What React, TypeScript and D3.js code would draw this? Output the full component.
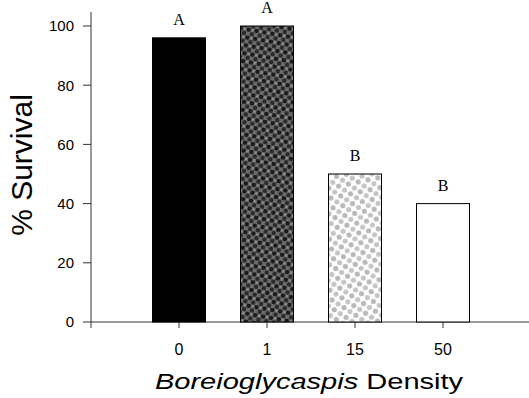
import { useEffect, useRef } from "react"
import * as d3 from "d3"

const categories = ["0", "1", "15", "50"]
const survival = [96, 100, 50, 40]
const letters = ["A", "A", "B", "B"]
const fills = ["#000", "url(#darkHatch)", "url(#lightDots)", "#fff"]
const yTicks = [0, 20, 40, 60, 80, 100]

export default function App() {
  const svgRef = useRef<SVGSVGElement | null>(null)

  useEffect(() => {
    if (!svgRef.current) return
    const root = d3.select(svgRef.current)
    root.selectAll("*").remove()

    // patterns for the two textured bars
    const defs = root.append("defs")
    const dark = defs
      .append("pattern")
      .attr("id", "darkHatch")
      .attr("patternUnits", "userSpaceOnUse")
      .attr("width", 8)
      .attr("height", 8)
      .attr("patternTransform", "rotate(10)")
    dark.append("rect").attr("width", 8).attr("height", 8).attr("fill", "#6e6e6e")
    dark.append("circle").attr("cx", 2).attr("cy", 2).attr("r", 2.3).attr("fill", "#1a1a1a")
    dark.append("circle").attr("cx", 6).attr("cy", 6).attr("r", 2.3).attr("fill", "#2a2a2a")
    dark.append("circle").attr("cx", 6).attr("cy", 2).attr("r", 1).attr("fill", "#9a9a9a")

    const light = defs
      .append("pattern")
      .attr("id", "lightDots")
      .attr("patternUnits", "userSpaceOnUse")
      .attr("width", 10)
      .attr("height", 10)
      .attr("patternTransform", "rotate(-12)")
    light.append("rect").attr("width", 10).attr("height", 10).attr("fill", "#fff")
    light.append("circle").attr("cx", 2.5).attr("cy", 2.5).attr("r", 2.6).attr("fill", "#b8b8b8")
    light.append("circle").attr("cx", 7.5).attr("cy", 7.5).attr("r", 2.6).attr("fill", "#c4c4c4")

    const x = d3.scaleLinear().domain([-1, 4]).range([91, 531])
    const y = d3.scaleLinear().domain([0, 100]).range([322, 26])
    const barW = 53

    const axisColor = "#333"

    // y axis line
    root
      .append("line")
      .attr("x1", 91)
      .attr("x2", 91)
      .attr("y1", 12)
      .attr("y2", 328)
      .attr("stroke", axisColor)
      .attr("stroke-width", 1)

    // x axis line
    root
      .append("line")
      .attr("x1", 91)
      .attr("x2", 529)
      .attr("y1", y(0))
      .attr("y2", y(0))
      .attr("stroke", axisColor)
      .attr("stroke-width", 1)

    // bars
    root
      .selectAll(".bar")
      .data(survival)
      .enter()
      .append("rect")
      .attr("class", "bar")
      .attr("x", (d, i) => x(i) - barW / 2)
      .attr("y", (d) => y(d))
      .attr("width", barW)
      .attr("height", (d) => y(0) - y(d))
      .attr("fill", (d, i) => fills[i])
      .attr("stroke", "#000")
      .attr("stroke-width", 1)

    // letters above bars
    root
      .selectAll(".letter")
      .data(survival)
      .enter()
      .append("text")
      .attr("x", (d, i) => x(i))
      .attr("y", (d) => y(d) - 13)
      .attr("text-anchor", "middle")
      .attr("font-family", "Liberation Serif, Times New Roman, serif")
      .attr("font-size", 16)
      .text((d, i) => letters[i])

    // y ticks
    const yt = root.append("g")
    yt.selectAll("line")
      .data(yTicks)
      .enter()
      .append("line")
      .attr("x1", 83)
      .attr("x2", 91)
      .attr("y1", (d) => y(d))
      .attr("y2", (d) => y(d))
      .attr("stroke", axisColor)
    yt.selectAll("text")
      .data(yTicks)
      .enter()
      .append("text")
      .attr("x", 74)
      .attr("y", (d) => y(d))
      .attr("dy", "0.36em")
      .attr("text-anchor", "end")
      .attr("font-family", "Liberation Sans, Arial, sans-serif")
      .attr("font-size", 15)
      .text((d) => d)

    // x ticks
    const xt = root.append("g")
    xt.selectAll("line")
      .data(categories)
      .enter()
      .append("line")
      .attr("x1", (d, i) => x(i))
      .attr("x2", (d, i) => x(i))
      .attr("y1", y(0))
      .attr("y2", y(0) + 6)
      .attr("stroke", axisColor)
    xt.selectAll("text")
      .data(categories)
      .enter()
      .append("text")
      .attr("x", (d, i) => x(i))
      .attr("y", 355)
      .attr("text-anchor", "middle")
      .attr("font-family", "Liberation Sans, Arial, sans-serif")
      .attr("font-size", 16)
      .text((d) => d)

    // axis titles (x title is stretched wide in the original)
    const xTitle = root
      .append("text")
      .attr("transform", "translate(309,389) scale(1.32,1)")
      .attr("text-anchor", "middle")
      .attr("font-family", "Liberation Sans, Arial, sans-serif")
      .attr("font-size", 22)
    xTitle.append("tspan").attr("font-style", "italic").text("Boreioglycaspis")
    xTitle.append("tspan").text(" Density")

    root
      .append("text")
      .attr("transform", "translate(32,165) rotate(-90)")
      .attr("text-anchor", "middle")
      .attr("font-family", "Liberation Sans, Arial, sans-serif")
      .attr("font-size", 30)
      .text("% Survival")
  }, [])

  return (
    <svg
      ref={svgRef}
      width={529}
      height={398}
      style={{ position: "absolute", left: 0, top: 0, background: "#fff" }}
    ></svg>
  )
}
